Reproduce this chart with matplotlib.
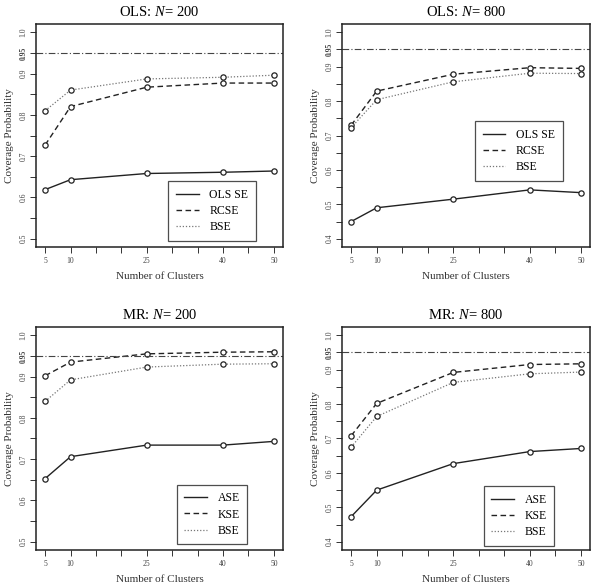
import matplotlib
matplotlib.use("Agg")
import matplotlib.pyplot as plt

plt.rcParams['font.family'] = ['Liberation Serif', 'DejaVu Serif']
plt.rcParams['mathtext.fontset'] = 'custom'
plt.rcParams['mathtext.rm'] = 'Liberation Serif'
plt.rcParams['mathtext.it'] = 'Liberation Serif:italic'

clusters = [5, 10, 25, 40, 50]
xtick_labels = [5, 10, 25, 40, 50]

# OLS, N = 200
ols200_olsse = [0.619, 0.643, 0.658, 0.661, 0.664]
ols200_rcse = [0.727, 0.820, 0.867, 0.877, 0.877]
ols200_bse = [0.810, 0.860, 0.887, 0.891, 0.896]

# OLS, N = 800
ols800_olsse = [0.450, 0.490, 0.515, 0.542, 0.534]
ols800_rcse = [0.730, 0.829, 0.878, 0.897, 0.895]
ols800_bse = [0.723, 0.804, 0.856, 0.881, 0.880]

# MR, N = 200
mr200_ase = [0.653, 0.706, 0.734, 0.734, 0.743]
mr200_kse = [0.902, 0.935, 0.955, 0.959, 0.960]
mr200_bse = [0.840, 0.892, 0.923, 0.930, 0.931]

# MR, N = 800
mr800_ase = [0.473, 0.550, 0.627, 0.662, 0.671]
mr800_kse = [0.708, 0.802, 0.892, 0.915, 0.917]
mr800_bse = [0.675, 0.764, 0.863, 0.888, 0.893]

nominal = 0.95

W, H = 597, 587
fig = plt.figure(figsize=(W / 100, H / 100), dpi=100)


def box(x0, y0, x1, y1):
  return [x0 / W, 1 - y1 / H, (x1 - x0) / W, (y1 - y0) / H]


def panel(rect, title, series, labels, ymin, legend_loc):
  ax = fig.add_axes(rect)
  styles = [dict(ls='-', color='#222222', lw=1.0),
            dict(ls=(0, (4, 2.5)), color='#222222', lw=1.0),
            dict(ls=(0, (1, 1.5)), color='#777777', lw=0.9)]
  for ys, lab, st in zip(series, labels, styles):
    ax.plot(clusters, ys, label=lab, marker='o', ms=3.8, mfc='white',
            mec='#222222', mew=0.9, **st)
  ax.axhline(nominal, ls=(0, (6, 2, 1, 2)), color='#444444', lw=0.8)
  pad_x = (50 - 5) * 0.04
  ax.set_xlim(5 - pad_x, 50 + pad_x)
  pad_y = (1.0 - ymin) * 0.04
  ax.set_ylim(ymin - pad_y, 1.0 + pad_y)
  ax.set_xticks(range(5, 51, 5))
  ax.set_xticklabels([str(v) if v in xtick_labels else '' for v in range(5, 51, 5)])
  yt = [round(ymin + 0.05 * i, 2) for i in range(int(round((1.0 - ymin) / 0.05)) + 1)]
  ax.set_yticks(yt)
  ylabs = []
  for v in yt:
    if abs(v - 0.95) < 1e-6:
      ylabs.append('0.95')
    elif abs(round(v * 10) - v * 10) < 1e-6:
      ylabs.append(f'{v:.1f}')
    else:
      ylabs.append('')
  ax.set_yticklabels(ylabs, rotation=90, va='center')
  for t in ax.get_yticklabels():
    if t.get_text() == '0.95':
      t.set_fontweight('bold')
  ax.tick_params(axis='both', labelsize=5.5, length=4, width=0.7, colors='#333333',
                 labelcolor='#444444')
  ax.tick_params(axis='y', pad=2)
  ax.tick_params(axis='x', pad=3.5)
  for s in ax.spines.values():
    s.set_linewidth(1.1)
    s.set_color('#222222')
  ax.set_title(title, fontsize=10.5, pad=6)
  ax.set_xlabel('Number of Clusters', fontsize=8, labelpad=5, color='#333333')
  ax.set_ylabel('Coverage Probability', fontsize=8, labelpad=4, color='#333333')
  leg = ax.legend(loc='center', bbox_to_anchor=legend_loc, fontsize=8.5,
                  frameon=True, fancybox=False, edgecolor='#222222',
                  handlelength=1.9, handletextpad=0.9, borderpad=0.65,
                  labelspacing=0.35, borderaxespad=0)
  leg.get_frame().set_linewidth(0.9)
  for h in leg.legend_handles:
    h.set_marker('')
  return ax


# legend centres in axes fraction
panel(box(36, 24, 283, 247), 'OLS: $\\mathit{N}$= 200',
      [ols200_olsse, ols200_rcse, ols200_bse], ['OLS SE', 'RCSE', 'BSE'],
      0.5, (0.713, 0.161))
panel(box(342, 24, 590, 247), 'OLS: $\\mathit{N}$= 800',
      [ols800_olsse, ols800_rcse, ols800_bse], ['OLS SE', 'RCSE', 'BSE'],
      0.4, (0.714, 0.43))
panel(box(36, 327, 283, 550), 'MR: $\\mathit{N}$= 200',
      [mr200_ase, mr200_kse, mr200_bse], ['ASE', 'KSE', 'BSE'],
      0.5, (0.713, 0.159))
panel(box(342, 327, 590, 550), 'MR: $\\mathit{N}$= 800',
      [mr800_ase, mr800_kse, mr800_bse], ['ASE', 'KSE', 'BSE'],
      0.4, (0.714, 0.152))

fig.savefig('out.png', dpi=100)
